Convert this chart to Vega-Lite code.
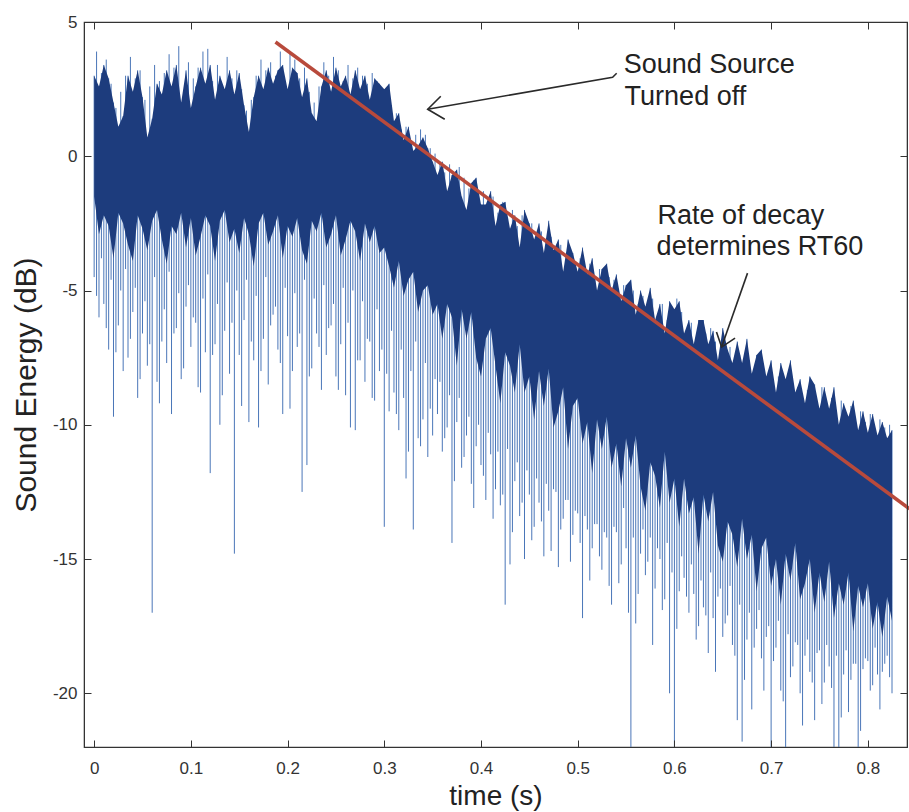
{
  "$schema": "https://vega.github.io/schema/vega-lite/v6.json",
  "width": 823,
  "height": 725,
  "autosize": "none",
  "padding": {"left": 84, "top": 22, "right": 2, "bottom": 65},
  "background": "white",
  "config": {"view": {"stroke": "#3a3a3a", "strokeWidth": 1.2}, "font": "Liberation Sans"},
  "datasets": {
    "sig": [
      {"t":0.000,"hi":3.0,"lo":-1.5,"low":-4.5},{"t":0.005,"hi":2.6,"lo":-2.9,"low":-6.0},{"t":0.010,"hi":3.4,"lo":-2.2,"low":-5.5},{"t":0.015,"hi":2.9,"lo":-2.6,"low":-7.2},
      {"t":0.020,"hi":2.0,"lo":-3.8,"low":-9.7},{"t":0.025,"hi":1.1,"lo":-2.1,"low":-6.3},{"t":0.030,"hi":1.5,"lo":-2.5,"low":-8.0},{"t":0.035,"hi":3.0,"lo":-3.3,"low":-7.5},
      {"t":0.040,"hi":2.4,"lo":-3.9,"low":-5.8},{"t":0.045,"hi":3.2,"lo":-2.2,"low":-9.0},{"t":0.050,"hi":2.2,"lo":-2.7,"low":-6.6},{"t":0.055,"hi":0.7,"lo":-3.5,"low":-7.8},
      {"t":0.060,"hi":1.4,"lo":-2.4,"low":-17.0},{"t":0.065,"hi":2.7,"lo":-2.0,"low":-8.4},{"t":0.070,"hi":2.3,"lo":-3.1,"low":-6.9},{"t":0.075,"hi":3.2,"lo":-4.0,"low":-7.7},
      {"t":0.080,"hi":2.6,"lo":-2.6,"low":-9.6},{"t":0.085,"hi":3.4,"lo":-2.9,"low":-6.4},{"t":0.090,"hi":2.0,"lo":-2.1,"low":-8.3},{"t":0.095,"hi":3.2,"lo":-3.4,"low":-5.6},
      {"t":0.100,"hi":1.8,"lo":-2.3,"low":-7.1},{"t":0.105,"hi":2.6,"lo":-3.7,"low":-6.2},{"t":0.110,"hi":3.3,"lo":-3.0,"low":-8.8},{"t":0.115,"hi":2.7,"lo":-2.2,"low":-7.3},
      {"t":0.120,"hi":3.4,"lo":-2.6,"low":-11.8},{"t":0.125,"hi":2.1,"lo":-3.9,"low":-7.0},{"t":0.130,"hi":3.0,"lo":-2.4,"low":-10.0},{"t":0.135,"hi":2.5,"lo":-2.0,"low":-6.5},
      {"t":0.140,"hi":3.2,"lo":-3.2,"low":-8.1},{"t":0.145,"hi":2.3,"lo":-2.7,"low":-14.8},{"t":0.150,"hi":3.1,"lo":-3.6,"low":-7.4},{"t":0.155,"hi":1.9,"lo":-2.3,"low":-6.1},
      {"t":0.160,"hi":0.9,"lo":-2.9,"low":-9.9},{"t":0.165,"hi":2.2,"lo":-4.1,"low":-7.6},{"t":0.170,"hi":3.0,"lo":-2.5,"low":-10.1},{"t":0.175,"hi":2.5,"lo":-2.1,"low":-6.8},
      {"t":0.180,"hi":3.3,"lo":-3.3,"low":-8.5},{"t":0.185,"hi":2.7,"lo":-2.8,"low":-5.9},{"t":0.190,"hi":3.2,"lo":-2.2,"low":-7.2},{"t":0.195,"hi":3.4,"lo":-3.8,"low":-9.6},
      {"t":0.200,"hi":2.5,"lo":-2.6,"low":-6.7},{"t":0.205,"hi":3.3,"lo":-3.0,"low":-8.0},{"t":0.210,"hi":3.1,"lo":-2.3,"low":-7.1},{"t":0.215,"hi":2.2,"lo":-3.5,"low":-12.5},
      {"t":0.220,"hi":2.9,"lo":-4.0,"low":-11.5},{"t":0.225,"hi":1.6,"lo":-2.4,"low":-7.9},{"t":0.230,"hi":1.3,"lo":-2.8,"low":-6.6},{"t":0.235,"hi":2.6,"lo":-2.1,"low":-8.7},
      {"t":0.240,"hi":3.2,"lo":-3.4,"low":-7.4},{"t":0.245,"hi":2.4,"lo":-2.9,"low":-6.3},{"t":0.250,"hi":3.3,"lo":-2.2,"low":-8.2},{"t":0.255,"hi":2.6,"lo":-3.7,"low":-7.0},
      {"t":0.260,"hi":3.0,"lo":-3.1,"low":-8.9},{"t":0.265,"hi":2.3,"lo":-2.4,"low":-10.1},{"t":0.270,"hi":3.2,"lo":-2.8,"low":-10.2},{"t":0.275,"hi":2.5,"lo":-3.9,"low":-7.6},
      {"t":0.280,"hi":3.0,"lo":-2.5,"low":-8.4},{"t":0.285,"hi":2.1,"lo":-3.2,"low":-6.9},{"t":0.290,"hi":2.9,"lo":-2.6,"low":-9.1},{"t":0.295,"hi":2.7,"lo":-3.6,"low":-8.0},
      {"t":0.300,"hi":2.5,"lo":-3.4,"low":-13.8},{"t":0.305,"hi":2.7,"lo":-4.1,"low":-9.5},{"t":0.310,"hi":1.3,"lo":-4.9,"low":-8.8},{"t":0.315,"hi":1.6,"lo":-3.9,"low":-10.2},
      {"t":0.320,"hi":0.6,"lo":-5.2,"low":-9.0},{"t":0.325,"hi":1.1,"lo":-4.6,"low":-11.0},{"t":0.330,"hi":0.2,"lo":-4.3,"low":-13.9},{"t":0.335,"hi":0.4,"lo":-5.8,"low":-10.5},
      {"t":0.340,"hi":0.7,"lo":-5.0,"low":-9.8},{"t":0.345,"hi":0.3,"lo":-4.8,"low":-11.2},{"t":0.350,"hi":-0.2,"lo":-5.9,"low":-10.4},{"t":0.355,"hi":-0.7,"lo":-5.5,"low":-9.6},
      {"t":0.360,"hi":-0.2,"lo":-6.8,"low":-11.0},{"t":0.365,"hi":-1.3,"lo":-5.5,"low":-10.1},{"t":0.370,"hi":-0.7,"lo":-6.0,"low":-14.4},{"t":0.375,"hi":-0.5,"lo":-7.8,"low":-9.9},
      {"t":0.380,"hi":-1.5,"lo":-5.7,"low":-11.6},{"t":0.385,"hi":-2.0,"lo":-6.8,"low":-10.4},{"t":0.390,"hi":-1.0,"lo":-5.8,"low":-12.2},{"t":0.395,"hi":-0.8,"lo":-7.5,"low":-10.8},
      {"t":0.400,"hi":-1.8,"lo":-8.2,"low":-11.5},{"t":0.405,"hi":-1.8,"lo":-6.8,"low":-12.8},{"t":0.410,"hi":-1.3,"lo":-6.4,"low":-11.1},{"t":0.415,"hi":-2.6,"lo":-7.8,"low":-12.4},
      {"t":0.420,"hi":-1.8,"lo":-9.2,"low":-13.0},{"t":0.425,"hi":-1.7,"lo":-7.3,"low":-16.7},{"t":0.430,"hi":-2.7,"lo":-7.8,"low":-15.2},{"t":0.435,"hi":-2.2,"lo":-8.8,"low":-12.1},
      {"t":0.440,"hi":-3.4,"lo":-7.0,"low":-13.4},{"t":0.445,"hi":-2.0,"lo":-8.8,"low":-15.0},{"t":0.450,"hi":-2.5,"lo":-8.2,"low":-12.6},{"t":0.455,"hi":-3.1,"lo":-9.8,"low":-13.8},
      {"t":0.460,"hi":-2.5,"lo":-8.0,"low":-12.9},{"t":0.465,"hi":-3.6,"lo":-9.3,"low":-14.9},{"t":0.470,"hi":-2.4,"lo":-7.9,"low":-13.2},{"t":0.475,"hi":-3.5,"lo":-10.1,"low":-12.4},
      {"t":0.480,"hi":-3.1,"lo":-9.5,"low":-15.3},{"t":0.485,"hi":-4.3,"lo":-8.6,"low":-13.5},{"t":0.490,"hi":-3.1,"lo":-10.9,"low":-12.8},{"t":0.495,"hi":-3.6,"lo":-9.3,"low":-14.1},
      {"t":0.500,"hi":-4.3,"lo":-9.0,"low":-13.3},{"t":0.505,"hi":-3.4,"lo":-10.7,"low":-17.2},{"t":0.510,"hi":-4.4,"lo":-9.9,"low":-13.9},{"t":0.515,"hi":-3.8,"lo":-11.8,"low":-14.6},
      {"t":0.520,"hi":-5.0,"lo":-9.8,"low":-13.7},{"t":0.525,"hi":-4.2,"lo":-10.9,"low":-15.4},{"t":0.530,"hi":-4.0,"lo":-9.7,"low":-14.2},{"t":0.535,"hi":-5.0,"lo":-11.6,"low":-16.7},
      {"t":0.540,"hi":-4.4,"lo":-10.7,"low":-14.0},{"t":0.545,"hi":-5.4,"lo":-12.3,"low":-15.2},{"t":0.550,"hi":-4.8,"lo":-10.5,"low":-14.6},{"t":0.555,"hi":-4.6,"lo":-11.6,"low":-22.5},
      {"t":0.560,"hi":-5.9,"lo":-10.4,"low":-17.4},{"t":0.565,"hi":-5.0,"lo":-12.3,"low":-14.8},{"t":0.570,"hi":-5.6,"lo":-13.2,"low":-15.6},{"t":0.575,"hi":-4.9,"lo":-11.4,"low":-14.2},
      {"t":0.580,"hi":-6.1,"lo":-11.9,"low":-16.1},{"t":0.585,"hi":-5.5,"lo":-13.1,"low":-15.0},{"t":0.590,"hi":-6.6,"lo":-11.0,"low":-16.5},{"t":0.595,"hi":-5.4,"lo":-12.9,"low":-20.0},
      {"t":0.600,"hi":-5.7,"lo":-12.0,"low":-22.5},{"t":0.605,"hi":-5.4,"lo":-13.8,"low":-16.2},{"t":0.610,"hi":-6.6,"lo":-12.0,"low":-15.7},{"t":0.615,"hi":-6.1,"lo":-13.3,"low":-17.0},
      {"t":0.620,"hi":-7.0,"lo":-12.7,"low":-16.3},{"t":0.625,"hi":-6.1,"lo":-14.8,"low":-17.5},{"t":0.630,"hi":-6.1,"lo":-12.6,"low":-16.8},{"t":0.635,"hi":-7.0,"lo":-13.6,"low":-18.5},
      {"t":0.640,"hi":-6.5,"lo":-12.5,"low":-17.2},{"t":0.645,"hi":-7.6,"lo":-14.5,"low":-16.4},{"t":0.650,"hi":-6.4,"lo":-15.1,"low":-17.9},{"t":0.655,"hi":-7.2,"lo":-13.6,"low":-17.1},
      {"t":0.660,"hi":-7.7,"lo":-14.1,"low":-18.2},{"t":0.665,"hi":-6.9,"lo":-15.3,"low":-21.0},{"t":0.670,"hi":-7.7,"lo":-13.5,"low":-21.8},{"t":0.675,"hi":-6.8,"lo":-15.0,"low":-18.0},
      {"t":0.680,"hi":-8.1,"lo":-14.1,"low":-20.6},{"t":0.685,"hi":-7.4,"lo":-16.2,"low":-17.6},{"t":0.690,"hi":-7.2,"lo":-14.6,"low":-18.7},{"t":0.695,"hi":-8.2,"lo":-14.2,"low":-17.9},
      {"t":0.700,"hi":-7.6,"lo":-16.0,"low":-22.5},{"t":0.705,"hi":-8.8,"lo":-15.0,"low":-18.3},{"t":0.710,"hi":-7.7,"lo":-16.7,"low":-19.9},{"t":0.715,"hi":-8.3,"lo":-14.8,"low":-22.5},
      {"t":0.720,"hi":-7.6,"lo":-15.8,"low":-19.4},{"t":0.725,"hi":-8.8,"lo":-14.4,"low":-18.1},{"t":0.730,"hi":-8.3,"lo":-16.5,"low":-20.0},{"t":0.735,"hi":-9.2,"lo":-15.9,"low":-18.6},
      {"t":0.740,"hi":-8.2,"lo":-15.0,"low":-19.2},{"t":0.745,"hi":-8.5,"lo":-17.0,"low":-21.0},{"t":0.750,"hi":-9.4,"lo":-15.5,"low":-18.4},{"t":0.755,"hi":-8.6,"lo":-16.6,"low":-19.6},
      {"t":0.760,"hi":-9.4,"lo":-15.1,"low":-19.0},{"t":0.765,"hi":-8.6,"lo":-17.2,"low":-22.5},{"t":0.770,"hi":-10.0,"lo":-15.9,"low":-22.5},{"t":0.775,"hi":-9.2,"lo":-16.7,"low":-19.3},
      {"t":0.780,"hi":-9.7,"lo":-15.5,"low":-20.7},{"t":0.785,"hi":-9.1,"lo":-17.7,"low":-18.9},{"t":0.790,"hi":-10.2,"lo":-16.0,"low":-22.5},{"t":0.795,"hi":-9.5,"lo":-16.8,"low":-19.1},
      {"t":0.800,"hi":-10.3,"lo":-15.9,"low":-18.8},{"t":0.805,"hi":-9.6,"lo":-17.6,"low":-19.7},{"t":0.810,"hi":-10.4,"lo":-16.6,"low":-19.3},{"t":0.815,"hi":-9.9,"lo":-17.9,"low":-19.2},
      {"t":0.820,"hi":-10.5,"lo":-16.4,"low":-18.6},{"t":0.825,"hi":-10.2,"lo":-17.3,"low":-20.0}
    ],
    "sp2": [
      {"t":0.0025,"s":3.9,"e":-5.2},{"t":0.0075,"s":3.1,"e":-3.8},{"t":0.0125,"s":3.6,"e":-6.4},{"t":0.0175,"s":2.7,"e":-4.6},
      {"t":0.0225,"s":1.8,"e":-7.3},{"t":0.0275,"s":2.4,"e":-5.0},{"t":0.0325,"s":3.0,"e":-4.2},{"t":0.0375,"s":3.7,"e":-6.8},
      {"t":0.0425,"s":2.9,"e":-4.9},{"t":0.0475,"s":3.2,"e":-8.3},{"t":0.0525,"s":2.1,"e":-5.4},{"t":0.0575,"s":2.6,"e":-7.0},
      {"t":0.0625,"s":3.4,"e":-4.5},{"t":0.0675,"s":2.8,"e":-9.2},{"t":0.0725,"s":3.1,"e":-5.7},{"t":0.0775,"s":3.8,"e":-4.3},
      {"t":0.0825,"s":3.3,"e":-6.6},{"t":0.0875,"s":4.1,"e":-5.1},{"t":0.0925,"s":2.4,"e":-7.9},{"t":0.0975,"s":3.5,"e":-4.8},
      {"t":0.1025,"s":2.9,"e":-6.0},{"t":0.1075,"s":3.3,"e":-8.6},{"t":0.1125,"s":3.9,"e":-5.3},{"t":0.1175,"s":4.0,"e":-4.4},
      {"t":0.1225,"s":2.8,"e":-7.4},{"t":0.1275,"s":3.4,"e":-5.5},{"t":0.1325,"s":2.6,"e":-8.9},{"t":0.1375,"s":3.7,"e":-4.7},
      {"t":0.1425,"s":2.9,"e":-6.2},{"t":0.1475,"s":3.2,"e":-5.0},{"t":0.1525,"s":2.5,"e":-9.3},{"t":0.1575,"s":1.7,"e":-4.6},
      {"t":0.1625,"s":2.1,"e":-6.9},{"t":0.1675,"s":3.0,"e":-5.2},{"t":0.1725,"s":3.6,"e":-8.0},{"t":0.1775,"s":3.2,"e":-4.5},
      {"t":0.1825,"s":3.5,"e":-6.3},{"t":0.1875,"s":3.0,"e":-5.6},{"t":0.1925,"s":3.9,"e":-7.7},{"t":0.1975,"s":2.7,"e":-4.9},
      {"t":0.2025,"s":3.9,"e":-9.4},{"t":0.2075,"s":3.6,"e":-5.1},{"t":0.2125,"s":2.9,"e":-6.6},{"t":0.2175,"s":3.3,"e":-4.6},
      {"t":0.2225,"s":2.4,"e":-8.2},{"t":0.2275,"s":2.0,"e":-5.3},{"t":0.2325,"s":2.6,"e":-7.1},{"t":0.2375,"s":3.5,"e":-4.8},
      {"t":0.2425,"s":3.0,"e":-6.4},{"t":0.2475,"s":3.7,"e":-5.5},{"t":0.2525,"s":3.2,"e":-8.7},{"t":0.2575,"s":2.8,"e":-4.9},
      {"t":0.2625,"s":3.4,"e":-6.2},{"t":0.2675,"s":2.9,"e":-5.0},{"t":0.2725,"s":3.3,"e":-7.6},{"t":0.2775,"s":3.0,"e":-5.4},
      {"t":0.2825,"s":2.7,"e":-6.8},{"t":0.2875,"s":3.1,"e":-9.0},{"t":0.2925,"s":2.8,"e":-5.7},{"t":0.2975,"s":2.5,"e":-7.2},
      {"t":0.3025,"s":2.4,"e":-8.1},{"t":0.3075,"s":1.9,"e":-6.5},{"t":0.3125,"s":1.6,"e":-9.6},{"t":0.3175,"s":1.0,"e":-7.2},
      {"t":0.3225,"s":1.1,"e":-12.0},{"t":0.3275,"s":0.5,"e":-8.0},{"t":0.3325,"s":0.8,"e":-6.9},{"t":0.3375,"s":1.0,"e":-10.8},
      {"t":0.3425,"s":0.8,"e":-7.7},{"t":0.3475,"s":0.3,"e":-9.4},{"t":0.3525,"s":0.1,"e":-8.3},{"t":0.3575,"s":-0.2,"e":-8.4},
      {"t":0.3625,"s":-0.6,"e":-10.5},{"t":0.3675,"s":-0.3,"e":-8.9},{"t":0.3725,"s":-0.9,"e":-12.1},{"t":0.3775,"s":-0.4,"e":-9.0},
      {"t":0.3825,"s":-0.8,"e":-11.2},{"t":0.3875,"s":-1.2,"e":-9.7},{"t":0.3925,"s":-0.9,"e":-13.1},{"t":0.3975,"s":-1.5,"e":-10.0},
      {"t":0.4025,"s":-1.3,"e":-11.9},{"t":0.4075,"s":-1.9,"e":-10.3},{"t":0.4125,"s":-1.5,"e":-13.5},{"t":0.4175,"s":-2.1,"e":-11.0},
      {"t":0.4225,"s":-1.7,"e":-12.6},{"t":0.4275,"s":-2.3,"e":-10.9},{"t":0.4325,"s":-2.0,"e":-14.0},{"t":0.4375,"s":-2.6,"e":-11.4},
      {"t":0.4425,"s":-2.2,"e":-12.9},{"t":0.4475,"s":-2.8,"e":-11.7},{"t":0.4525,"s":-2.5,"e":-14.3},{"t":0.4575,"s":-3.2,"e":-12.0},
      {"t":0.4625,"s":-2.8,"e":-13.6},{"t":0.4675,"s":-3.3,"e":-12.2},{"t":0.4725,"s":-3.0,"e":-14.7},{"t":0.4775,"s":-3.6,"e":-12.5},
      {"t":0.4825,"s":-3.3,"e":-13.9},{"t":0.4875,"s":-3.9,"e":-12.8},{"t":0.4925,"s":-3.5,"e":-15.1},{"t":0.4975,"s":-4.1,"e":-13.2},
      {"t":0.5025,"s":-3.8,"e":-14.4},{"t":0.5075,"s":-4.4,"e":-13.4},{"t":0.5125,"s":-4.0,"e":-15.8},{"t":0.5175,"s":-4.6,"e":-13.7},
      {"t":0.5225,"s":-4.2,"e":-14.9},{"t":0.5275,"s":-4.9,"e":-14.0},{"t":0.5325,"s":-4.5,"e":-16.0},{"t":0.5375,"s":-4.6,"e":-13.8},
      {"t":0.5425,"s":-5.1,"e":-15.9},{"t":0.5475,"s":-4.8,"e":-13.1},{"t":0.5525,"s":-5.4,"e":-17.0},{"t":0.5575,"s":-5.0,"e":-14.2},
      {"t":0.5625,"s":-5.5,"e":-16.3},{"t":0.5675,"s":-5.2,"e":-13.9},{"t":0.5725,"s":-5.7,"e":-15.1},{"t":0.5775,"s":-5.3,"e":-18.2},
      {"t":0.5825,"s":-5.9,"e":-14.6},{"t":0.5875,"s":-5.5,"e":-16.9},{"t":0.5925,"s":-6.1,"e":-14.4},{"t":0.5975,"s":-5.6,"e":-15.5},
      {"t":0.6025,"s":-5.3,"e":-17.6},{"t":0.6075,"s":-5.8,"e":-14.9},{"t":0.6125,"s":-6.5,"e":-16.4},{"t":0.6175,"s":-6.2,"e":-15.2},
      {"t":0.6225,"s":-6.8,"e":-18.0},{"t":0.6275,"s":-6.3,"e":-15.8},{"t":0.6325,"s":-6.6,"e":-17.1},{"t":0.6375,"s":-6.4,"e":-15.5},
      {"t":0.6425,"s":-6.9,"e":-19.2},{"t":0.6475,"s":-7.2,"e":-16.1},{"t":0.6525,"s":-7.5,"e":-17.4},{"t":0.6575,"s":-7.1,"e":-16.0},
      {"t":0.6625,"s":-7.7,"e":-18.6},{"t":0.6675,"s":-7.4,"e":-16.7},{"t":0.6725,"s":-8.0,"e":-19.5},{"t":0.6775,"s":-7.6,"e":-17.0},
      {"t":0.6825,"s":-8.3,"e":-18.3},{"t":0.6875,"s":-7.8,"e":-16.9},{"t":0.6925,"s":-8.5,"e":-19.9},{"t":0.6975,"s":-8.0,"e":-17.5},
      {"t":0.7025,"s":-8.7,"e":-18.8},{"t":0.7075,"s":-8.2,"e":-17.3},{"t":0.7125,"s":-8.9,"e":-20.3},{"t":0.7175,"s":-8.4,"e":-17.8},
      {"t":0.7225,"s":-9.1,"e":-19.0},{"t":0.7275,"s":-8.6,"e":-18.2},{"t":0.7325,"s":-9.0,"e":-21.2},{"t":0.7375,"s":-8.7,"e":-18.0},
      {"t":0.7425,"s":-8.5,"e":-19.6},{"t":0.7475,"s":-9.2,"e":-18.5},{"t":0.7525,"s":-8.6,"e":-20.4},{"t":0.7575,"s":-9.4,"e":-18.2},
      {"t":0.7625,"s":-9.0,"e":-19.8},{"t":0.7675,"s":-9.6,"e":-18.6},{"t":0.7725,"s":-9.1,"e":-20.9},{"t":0.7775,"s":-9.8,"e":-18.4},
      {"t":0.7825,"s":-9.3,"e":-19.5},{"t":0.7875,"s":-10.0,"e":-18.9},{"t":0.7925,"s":-9.5,"e":-21.4},{"t":0.7975,"s":-9.9,"e":-18.7},
      {"t":0.8025,"s":-9.6,"e":-19.9},{"t":0.8075,"s":-10.2,"e":-18.3},{"t":0.8125,"s":-9.8,"e":-20.6},{"t":0.8175,"s":-10.1,"e":-18.9},
      {"t":0.8225,"s":-10.0,"e":-19.4}
    ],
    "fit": [{"t":0.1875,"y":4.256},{"t":0.843,"y":-13.13}],
    "arrows": [
      {"g":"a1s","o":1,"t":0.5403,"y":3.091},{"g":"a1s","o":2,"t":0.5361,"y":2.942},{"g":"a1s","o":3,"t":0.3449,"y":1.751},
      {"g":"a1h","o":1,"t":0.3584,"y":2.235},{"g":"a1h","o":2,"t":0.3449,"y":1.751},{"g":"a1h","o":3,"t":0.3625,"y":1.379},
      {"g":"a2s","o":1,"t":0.6756,"y":-4.352},{"g":"a2s","o":2,"t":0.6488,"y":-7.106},
      {"g":"a2h","o":1,"t":0.6435,"y":-6.541},{"g":"a2h","o":2,"t":0.6488,"y":-7.106},{"g":"a2h","o":3,"t":0.6627,"y":-6.771}
    ],
    "notes": [
      {"t":0.5475,"y":3.091,"label":"Sound Source"},
      {"t":0.5485,"y":1.9,"label":"Turned off"},
      {"t":0.5826,"y":-2.529,"label":"Rate of decay"},
      {"t":0.5816,"y":-3.683,"label":"determines RT60"}
    ]
  },
  "resolve": {"axis": {"x": "independent", "y": "independent"}},
  "layer": [
    {
      "data": {"name": "sig"},
      "mark": {"type": "rule", "color": "#4a76b8", "strokeWidth": 1, "clip": true},
      "encoding": {
        "x": {"field": "t", "type": "quantitative",
          "scale": {"domain": [-0.0105, 0.8405], "nice": false, "zero": false},
          "axis": {"orient": "bottom", "values": [0,0.1,0.2,0.3,0.4,0.5,0.6,0.7,0.8], "format": ".1~f",
            "title": "time (s)", "titleFontSize": 28, "titleFontWeight": "normal", "titleColor": "#222", "titlePadding": 6,
            "labelFontSize": 17, "labelColor": "#333", "labelPadding": 20, "tickSize": -7, "tickColor": "#333",
            "domainColor": "#333", "grid": false, "zindex": 1}},
        "y": {"field": "hi", "type": "quantitative",
          "scale": {"domain": [-22, 5], "nice": false, "zero": false},
          "axis": {"orient": "left", "values": [5,0,-5,-10,-15,-20], "labelExpr": "'' + datum.value",
            "title": "Sound Energy (dB)", "titleFontSize": 30, "titleFontWeight": "normal", "titleColor": "#222", "titlePadding": 11,
            "labelFontSize": 17, "labelColor": "#333", "labelPadding": 14, "tickSize": -7, "tickColor": "#333",
            "domainColor": "#333", "grid": false, "zindex": 1}},
        "y2": {"field": "low"}
      }
    },
    {
      "data": {"name": "sp2"},
      "mark": {"type": "rule", "color": "#4a76b8", "strokeWidth": 1, "clip": true},
      "encoding": {
        "x": {"field": "t", "type": "quantitative", "axis": null},
        "y": {"field": "s", "type": "quantitative", "axis": null},
        "y2": {"field": "e"}
      }
    },
    {
      "data": {"name": "sig"},
      "mark": {"type": "area", "color": "#1d3c7d", "clip": true, "opacity": 1},
      "encoding": {
        "x": {"field": "t", "type": "quantitative",
          "axis": {"orient": "top", "values": [0,0.1,0.2,0.3,0.4,0.5,0.6,0.7,0.8], "labels": false, "title": null,
            "tickSize": -7, "tickColor": "#333", "domainColor": "#333", "grid": false, "zindex": 1}},
        "y": {"field": "hi", "type": "quantitative",
          "axis": {"orient": "right", "values": [5,0,-5,-10,-15,-20], "labels": false, "title": null,
            "tickSize": -7, "tickColor": "#333", "domainColor": "#333", "grid": false, "zindex": 1}},
        "y2": {"field": "lo"}
      }
    },
    {
      "data": {"name": "fit"},
      "mark": {"type": "line", "color": "#b84a3c", "strokeWidth": 3.5},
      "encoding": {
        "x": {"field": "t", "type": "quantitative", "axis": null},
        "y": {"field": "y", "type": "quantitative", "axis": null}
      }
    },
    {
      "data": {"name": "arrows"},
      "mark": {"type": "line", "color": "#2a2a2a", "strokeWidth": 1.6},
      "encoding": {
        "x": {"field": "t", "type": "quantitative", "axis": null},
        "y": {"field": "y", "type": "quantitative", "axis": null},
        "detail": {"field": "g"},
        "order": {"field": "o"}
      }
    },
    {
      "data": {"name": "notes"},
      "mark": {"type": "text", "align": "left", "baseline": "alphabetic", "fontSize": 27, "color": "#222", "font": "Liberation Sans"},
      "encoding": {
        "x": {"field": "t", "type": "quantitative", "axis": null},
        "y": {"field": "y", "type": "quantitative", "axis": null},
        "text": {"field": "label"}
      }
    }
  ]
}
